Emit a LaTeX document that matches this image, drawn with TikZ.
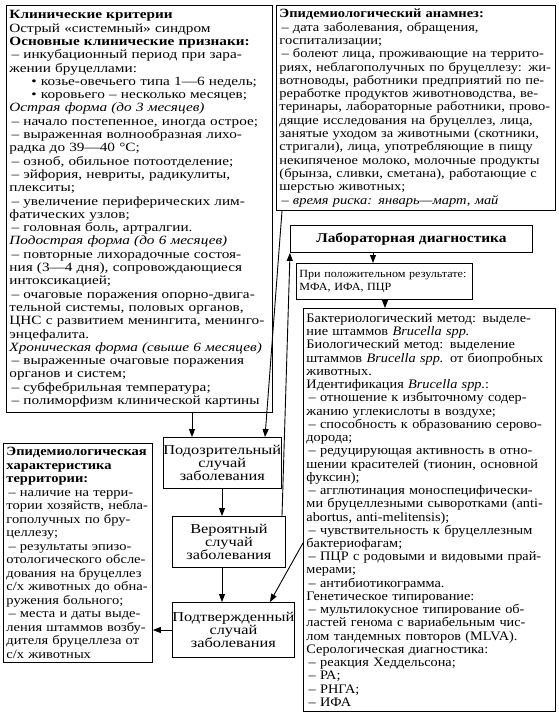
\documentclass[tikz,border=0pt]{standalone}
\usepackage{fontspec}
\setmainfont{Liberation Serif}[FakeStretch=1.1]
\newfontfamily\clinfont{Liberation Serif}[FakeStretch=1.21]
\newfontfamily\anamfont{Liberation Serif}[FakeStretch=1.15]
\newfontfamily\casefont{Liberation Serif}[FakeStretch=1.2]
\newfontfamily\labfont{Liberation Serif Bold}[FakeStretch=1.15]
\usepackage{tikz}
\usetikzlibrary{arrows.meta}

\tikzset{
  txtbox/.style={draw, line width=0.9pt, anchor=north west, inner xsep=3pt, inner ysep=0pt,
    align=left, font=\fontsize{12.6}{13.3}\selectfont},
  casebox/.style={draw, line width=0.9pt, anchor=north west, inner sep=0pt,
    align=center, font=\casefont\fontsize{13.6}{13}\selectfont},
  arr/.style={line width=0.9pt, -{Triangle[length=8pt,width=6pt]}},
}

\begin{document}
\begin{tikzpicture}[x=1pt, y=-1pt]
\useasboundingbox (0,0) rectangle (558,718);

% clinical picture
\node[txtbox, text width=260pt, minimum width=266pt, minimum height=407pt, font=\clinfont\fontsize{12.6}{13.3}\selectfont] (clin) at (6,5) {%
\textbf{Клинические критерии}\\
Острый «системный» синдром\\
\textbf{Основные клинические признаки:}\\
\,– инкубационный период при зара-\\
жении бруцеллами:\\
\hspace*{22pt}• козье-овечьего типа 1—6 недель;\\
\hspace*{22pt}• коровьего – несколько месяцев;\\
\textit{Острая форма (до 3 месяцев)}\\
\,– начало постепенное, иногда острое;\\
\,– выраженная волнообразная лихо-\\
радка до 39—40 °С;\\
\,– озноб, обильное потоотделение;\\
\,– эйфория, невриты, радикулиты,\\
плекситы;\\
\,– увеличение периферических лим-\\
фатических узлов;\\
\,– головная боль, артралгии.\\
\textit{Подострая форма (до 6 месяцев)}\\
\,– повторные лихорадочные состоя-\\
ния (3—4 дня), сопровождающиеся\\
интоксикацией;\\
\,– очаговые поражения опорно-двига-\\
тельной системы, половых органов,\\
ЦНС с развитием менингита, менинго-\\
энцефалита.\\
\textit{Хроническая форма (свыше 6 месяцев)}\\
\,– выраженные очаговые поражения\\
органов и систем;\\
\,– субфебрильная температура;\\
\,– полиморфизм клинической картины};

% anamnesis
\node[txtbox, text width=273pt, minimum width=279pt, minimum height=205pt, font=\anamfont\fontsize{12.6}{13.3}\selectfont] (anam) at (276,5) {%
\textbf{Эпидемиологический анамнез:}\\
\,– дата заболевания, обращения,\\
госпитализации;\\
\,– болеют лица, проживающие на террито-\\
риях, неблагополучных по бруцеллезу: жи-\\
вотноводы, работники предприятий по пе-\\
реработке продуктов животноводства, ве-\\
теринары, лабораторные работники, прово-\\
дящие исследования на бруцеллез, лица,\\
занятые уходом за животными (скотники,\\
стригали), лица, употребляющие в пищу\\
некипяченое молоко, молочные продукты\\
(брынза, сливки, сметана), работающие с\\
шерстью животных;\\
\,– \textit{время риска: январь—март, май}};

% lab part
\node[casebox, minimum width=242pt, minimum height=27pt, font=\labfont\fontsize{13.4}{14}\selectfont] (lab) at (290,225) {Лабораторная диагностика};
\node[txtbox, text width=170pt, minimum width=176pt, minimum height=36pt, font=\fontsize{11}{12.5}\selectfont] (pos) at (296,263) {%
При положительном результате:\\
МФА, ИФА, ПЦР};
\node[txtbox, text width=246pt, minimum width=252pt, minimum height=403pt, font=\fontsize{13}{13.24}\selectfont] (meth) at (303,308) {%
Бактериологический метод: выделе-\\
ние штаммов \textit{Brucella spp.}\\
Биологический метод: выделение\\
штаммов \textit{Brucella spp.} от биопробных\\
животных.\\
Идентификация \textit{Brucella spp.}:\\
\,– отношение к избыточному содер-\\
жанию углекислоты в воздухе;\\
\,– способность к образованию серово-\\
дорода;\\
\,– редуцирующая активность в отно-\\
шении красителей (тионин, основной\\
фуксин);\\
\,– агглютинация моноспецифически-\\
ми бруцеллезными сыворотками (anti-\\
abortus, anti-melitensis);\\
\,– чувствительность к бруцеллезным\\
бактериофагам;\\
\,– ПЦР с родовыми и видовыми прай-\\
мерами;\\
\,– антибиотикограмма.\\
Генетическое типирование:\\
\,– мультилокусное типирование об-\\
ластей генома с вариабельным чис-\\
лом тандемных повторов (MLVA).\\
Серологическая диагностика:\\
\,– реакция Хеддельсона;\\
\,– РА;\\
\,– РНГА;\\
\,– ИФА};

% cases
\node[casebox, minimum width=115pt, minimum height=51pt] (susp) at (163,437) {Подозрительный\\случай\\заболевания};
\node[casebox, minimum width=113pt, minimum height=51pt] (prob) at (172,516) {Вероятный\\случай\\заболевания};
\node[casebox, minimum width=121pt, minimum height=55pt] (conf) at (172,602) {Подтвержденный\\случай\\заболевания};

% territory
\node[txtbox, text width=143pt, minimum width=149pt, minimum height=219pt, font=\anamfont\fontsize{12.6}{13.5}\selectfont] (terr) at (3,443) {%
\textbf{Эпидемиологическая}\\
\textbf{характеристика}\\
\textbf{территории:}\\
\,– наличие на терри-\\
тории хозяйств, небла-\\
гополучных по бру-\\
целлезу;\\
\,– результаты эпизо-\\
отологического обсле-\\
дования на бруцеллез\\
с/х животных до обна-\\
ружения больного;\\
\,– места и даты выде-\\
ления штаммов возбу-\\
дителя бруцеллеза от\\
с/х животных};

% connectors
\draw[arr] (clin.south -| 192,0) -- (susp.north -| 192,0);
\draw[arr] (anam.south -| 282,0) -- (susp.north -| 265,0);
\draw[arr, {Triangle[length=8pt,width=6pt]}-] (lab.south west) -- (prob.north -| 282,0);
\draw[arr] (lab.south -| 373,0) -- (pos.north -| 373,0);
\draw[arr] (pos.south -| 385,0) -- (meth.north -| 385,0);
\draw[arr] (susp.south -| 222,0) -- (prob.north -| 222,0);
\draw[arr] (prob.south -| 222,0) -- (conf.north -| 222,0);
\draw[arr] (meth.west |- 0,543) -- (conf.north -| 270,0);
\draw[arr] (conf.west |- 0,630) -- (terr.east |- 0,630);
\end{tikzpicture}
\end{document}
